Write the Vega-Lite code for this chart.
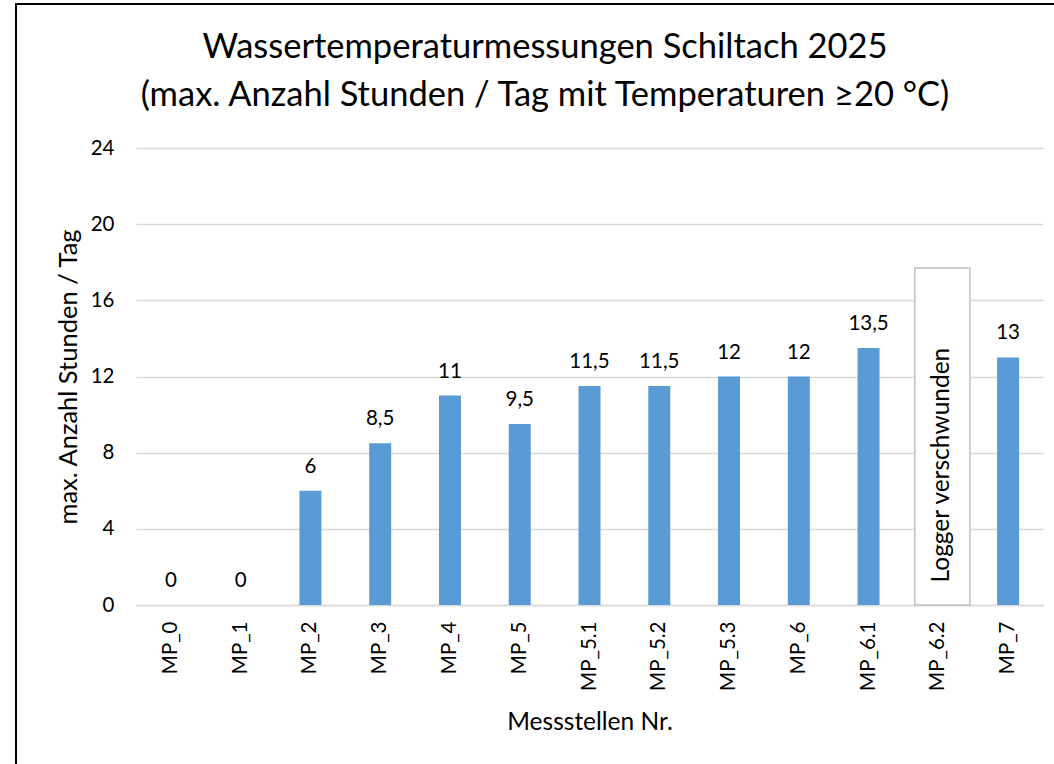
{
  "$schema": "https://vega.github.io/schema/vega-lite/v6.json",
  "width": 1054,
  "height": 764,
  "autosize": {"type": "fit", "contains": "padding"},
  "padding": {"left": 16, "top": 4, "right": -4, "bottom": -3},
  "background": "white",
  "config": {
    "font": "Lato",
    "locale": {"number": {"decimal": ",", "thousands": ".", "grouping": [3], "currency": ["", " €"]}},
    "view": {"stroke": "black", "strokeWidth": 2},
    "axis": {"labelColor": "black", "titleColor": "black", "titleFontWeight": "normal"}
  },
  "title": {
    "text": ["Wassertemperaturmessungen Schiltach 2025", "(max. Anzahl Stunden / Tag mit Temperaturen ≥20 °C)"],
    "fontSize": 34.5,
    "fontWeight": "normal",
    "color": "black",
    "anchor": "middle",
    "orient": "top",
    "baseline": "top",
    "offset": -109,
    "dx": 8,
    "lineHeight": 48,
    "frame": "group"
  },
  "data": {
    "values": [
      {"mp": "MP_0", "h": 0},
      {"mp": "MP_1", "h": 0},
      {"mp": "MP_2", "h": 6},
      {"mp": "MP_3", "h": 8.5},
      {"mp": "MP_4", "h": 11},
      {"mp": "MP_5", "h": 9.5},
      {"mp": "MP_5.1", "h": 11.5},
      {"mp": "MP_5.2", "h": 11.5},
      {"mp": "MP_5.3", "h": 12},
      {"mp": "MP_6", "h": 12},
      {"mp": "MP_6.1", "h": 13.5},
      {"mp": "MP_6.2", "h": null, "box": 17.7, "note": "Logger verschwunden"},
      {"mp": "MP_7", "h": 13}
    ]
  },
  "encoding": {
    "x": {
      "field": "mp",
      "type": "nominal",
      "sort": ["MP_0", "MP_1", "MP_2", "MP_3", "MP_4", "MP_5", "MP_5.1", "MP_5.2", "MP_5.3", "MP_6", "MP_6.1", "MP_6.2", "MP_7"],
      "scale": {"range": [120, 1027], "paddingInner": 0, "paddingOuter": 0},
      "axis": {
        "orient": "bottom",
        "offset": -162,
        "domain": true,
        "domainColor": "#D9D9D9",
        "domainWidth": 1.3,
        "ticks": false,
        "grid": false,
        "labelAngle": -90,
        "labelPadding": 16,
        "labelFontSize": 20.5,
        "title": "Messstellen Nr.",
        "titleFontSize": 24.5,
        "titlePadding": 20
      }
    }
  },
  "layer": [
    {
      "mark": {"type": "bar", "color": "#5B9BD5", "width": {"band": 0.315}},
      "encoding": {
        "y": {
          "field": "h",
          "type": "quantitative",
          "scale": {"domain": [0, 24], "range": [601, 144]},
          "axis": {
            "values": [0, 4, 8, 12, 16, 20, 24],
            "offset": -120,
            "domain": false,
            "ticks": false,
            "grid": true,
            "gridColor": "#D9D9D9",
            "gridWidth": 1.3,
            "labelPadding": 22,
            "labelFontSize": 20.5,
            "title": "max. Anzahl Stunden / Tag",
            "titleFontSize": 25.5,
            "titlePadding": 9
          }
        }
      }
    },
    {
      "transform": [{"filter": "isValid(datum.box)"}],
      "mark": {"type": "bar", "fill": "white", "stroke": "#BFBFBF", "strokeWidth": 1.5, "width": {"band": 0.79}, "xOffset": 4},
      "encoding": {
        "y": {"field": "box", "type": "quantitative"},
        "y2": {"datum": 0}
      }
    },
    {
      "transform": [{"filter": "isValid(datum.note)"}],
      "mark": {"type": "text", "angle": 270, "align": "center", "baseline": "middle", "fontSize": 24.5, "color": "black", "xOffset": 4},
      "encoding": {
        "y": {"datum": 7.35},
        "text": {"field": "note"}
      }
    },
    {
      "transform": [{"filter": "isValid(datum.h)"}],
      "mark": {"type": "text", "baseline": "bottom", "align": "center", "fontSize": 20.5, "color": "black", "dy": -14},
      "encoding": {
        "y": {"field": "h", "type": "quantitative"},
        "text": {"field": "h", "type": "quantitative", "format": ".1~f"}
      }
    }
  ]
}
